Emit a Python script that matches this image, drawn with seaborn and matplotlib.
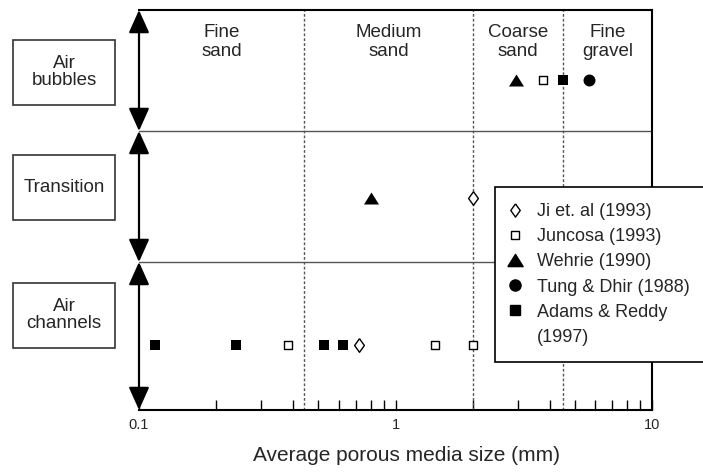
import pandas as pd
import matplotlib
matplotlib.use('Agg')
import matplotlib.pyplot as plt
from matplotlib.lines import Line2D
from matplotlib.patches import Rectangle
from matplotlib.ticker import FixedLocator, FixedFormatter, LogLocator, NullFormatter
import seaborn as sns

# flow regimes, top to bottom
regimes = ['Air bubbles', 'Transition', 'Air channels']
regime_text = ['Air\nbubbles', 'Transition', 'Air\nchannels']

# grain size classes (mm)
class_names = ['Fine\nsand', 'Medium\nsand', 'Coarse\nsand', 'Fine\ngravel']
class_edges = [0.1, 0.44, 2.0, 4.5, 10.0]

ji_size = [2.0, 0.72]
ji_regime = ['Transition', 'Air channels']
juncosa_size = [3.75, 0.38, 1.43, 2.0]
juncosa_regime = ['Air bubbles', 'Air channels', 'Air channels', 'Air channels']
wehrie_size = [2.95, 0.8]
wehrie_regime = ['Air bubbles', 'Transition']
tung_size = [5.7]
tung_regime = ['Air bubbles']
adams_size = [4.5, 0.115, 0.238, 0.525, 0.625]
adams_regime = ['Air bubbles', 'Air channels', 'Air channels', 'Air channels', 'Air channels']

studies = ['Ji et. al (1993)', 'Juncosa (1993)', 'Wehrie (1990)',
           'Tung & Dhir (1988)', 'Adams & Reddy']

rows = []
for st, sz, rg in [(studies[0], ji_size, ji_regime), (studies[1], juncosa_size, juncosa_regime),
                   (studies[2], wehrie_size, wehrie_regime), (studies[3], tung_size, tung_regime),
                   (studies[4], adams_size, adams_regime)]:
    for a, b in zip(sz, rg):
        rows.append({'study': st, 'size': a, 'regime': b})
df = pd.DataFrame(rows)

# vertical layout of the regime bands (axis runs 0..400)
band_edges = [400, 279, 148, 0]
row_y = {'Air bubbles': 330, 'Transition': 212, 'Air channels': 65}
box_y = {'Air bubbles': 338, 'Transition': 223, 'Air channels': 95}
df['y'] = df['regime'].map(row_y)

diamond = [(0, 1), (0.72, 0), (0, -1), (-0.72, 0), (0, 1)]
triangle = [(-1, -0.8), (1, -0.8), (0, 0.8), (-1, -0.8)]
styles = {
    studies[0]: dict(marker=diamond, s=96, color='white', edgecolor='black', linewidth=1.0),
    studies[1]: dict(marker='s', s=40, color='white', edgecolor='black', linewidth=1.0),
    studies[2]: dict(marker=triangle, s=117, color='black', edgecolor='black', linewidth=0),
    studies[3]: dict(marker='o', s=74, color='black', edgecolor='black', linewidth=0),
    studies[4]: dict(marker='s', s=52, color='black', edgecolor='black', linewidth=0),
}

sns.set_style('white')
plt.rcParams['font.family'] = ['Liberation Sans', 'DejaVu Sans']

W, H = 703, 472
fig = plt.figure(figsize=(W / 100, H / 100), dpi=100)
ax = fig.add_axes([139 / W, 62 / H, 513 / W, 400 / H])

for st in studies:
    sub = df[df['study'] == st]
    sns.scatterplot(data=sub, x='size', y='y', ax=ax, legend=False, zorder=4,
                    clip_on=False, **styles[st])

ax.set_xscale('log')
ax.set_xlim(0.1, 10)
ax.set_ylim(0, 400)

# class boundaries and labels
for e in class_edges[1:-1]:
    ax.axvline(e, color='#555555', linestyle=(0, (2, 1.5)), linewidth=1.0, zorder=1)
for i, name in enumerate(class_names):
    xc = (class_edges[i] * class_edges[i + 1]) ** 0.5
    ax.text(xc, 368, name, ha='center', va='center', fontsize=13.5, linespacing=1.08)

# regime bands
for yb in band_edges[1:-1]:
    ax.axhline(yb, color='#555555', linewidth=1.0, zorder=1)
for i in range(3):
    ax.annotate('', xy=(0, band_edges[i]), xytext=(0, band_edges[i + 1]),
                xycoords=ax.get_yaxis_transform(), textcoords=ax.get_yaxis_transform(),
                arrowprops=dict(arrowstyle='<|-|>,head_length=1.0,head_width=0.45',
                                mutation_scale=14, color='black', lw=1.6,
                                shrinkA=0, shrinkB=0), annotation_clip=False, zorder=5)

# regime boxes on the left
bx0, bx1 = 13 / W, 115 / W
trans = matplotlib.transforms.blended_transform_factory(fig.transFigure, ax.transData)
for name, txt in zip(regimes, regime_text):
    yc = box_y[name]
    fig.patches.append(Rectangle((bx0, yc - 32.5), bx1 - bx0, 65, transform=trans,
                                 fill=False, edgecolor='#333333', linewidth=1.2))
    fig.text((bx0 + bx1) / 2, yc, txt, transform=trans, ha='center', va='center',
             fontsize=13.5, linespacing=0.98)

# axes frame
sns.despine(ax=ax, left=True, top=False, right=False, bottom=False)
for side in ['top', 'right', 'bottom']:
    ax.spines[side].set_color('black')
    ax.spines[side].set_linewidth(1.5)

ax.xaxis.set_major_locator(FixedLocator([0.1, 1, 10]))
ax.xaxis.set_major_formatter(FixedFormatter(['0.1', '1', '10']))
ax.xaxis.set_minor_locator(LogLocator(base=10, subs=range(2, 10)))
ax.xaxis.set_minor_formatter(NullFormatter())
ax.tick_params(axis='x', which='both', direction='in', length=7.2, width=1.0,
               color='black', bottom=True, top=False, labelsize=10.5, pad=5.5)
ax.set_yticks([])
ax.set_ylabel('')
ax.set_xlabel('Average porous media size (mm)', fontsize=15)
ax.xaxis.set_label_coords(0.522, -0.09)

# legend
handles = [
    Line2D([], [], linestyle='none', marker=diamond, markersize=9.5, markerfacecolor='white',
           markeredgecolor='black', markeredgewidth=1.0),
    Line2D([], [], linestyle='none', marker='s', markersize=5.5, markerfacecolor='white',
           markeredgecolor='black', markeredgewidth=1.0),
    Line2D([], [], linestyle='none', marker=triangle, markersize=11, color='black'),
    Line2D([], [], linestyle='none', marker='o', markersize=8, color='black'),
    Line2D([], [], linestyle='none', marker='s', markersize=7.2, color='black'),
    Line2D([], [], linestyle='none'),
]
leg = fig.legend(handles, studies + ['(1997)'], loc='upper left',
                 bbox_to_anchor=(495 / W, 1 - 361 / H, 225 / W, 174 / H), mode='expand',
                 borderaxespad=0, fontsize=13, frameon=True, fancybox=False, framealpha=1,
                 edgecolor='black', borderpad=0.9, handlelength=0.4,
                 handletextpad=1.0, labelspacing=0.45)
leg.get_frame().set_linewidth(1.2)

fig.savefig('out.png', dpi=100)
